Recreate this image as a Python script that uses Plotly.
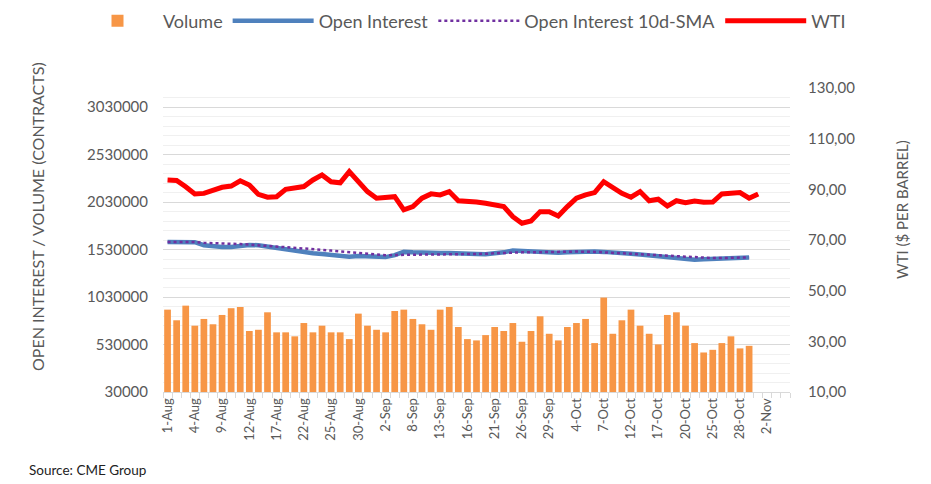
import plotly.graph_objects as go

dates = [
    "1-Aug", "2-Aug", "3-Aug", "4-Aug", "5-Aug", "8-Aug", "9-Aug", "10-Aug", "11-Aug", "12-Aug",
    "15-Aug", "16-Aug", "17-Aug", "18-Aug", "19-Aug", "22-Aug", "23-Aug", "24-Aug", "25-Aug", "26-Aug",
    "29-Aug", "30-Aug", "31-Aug",
    "1-Sep", "2-Sep", "6-Sep", "7-Sep", "8-Sep", "9-Sep", "12-Sep", "13-Sep", "14-Sep", "15-Sep",
    "16-Sep", "19-Sep", "20-Sep", "21-Sep", "22-Sep", "23-Sep", "26-Sep", "27-Sep", "28-Sep", "29-Sep",
    "30-Sep",
    "3-Oct", "4-Oct", "5-Oct", "6-Oct", "7-Oct", "10-Oct", "11-Oct", "12-Oct", "13-Oct", "14-Oct",
    "17-Oct", "18-Oct", "19-Oct", "20-Oct", "21-Oct", "24-Oct", "25-Oct", "26-Oct", "27-Oct", "28-Oct",
    "31-Oct",
    "1-Nov", "2-Nov", "3-Nov", "4-Nov",
]

volume = [
    897000, 785000, 939000, 728000, 799000, 743000, 841000, 912000, 925000, 672000,
    685000, 869000, 658000, 658000, 616000, 756000, 658000, 728000, 658000, 658000,
    587000, 855000, 728000, 685000, 658000, 883000, 897000, 799000, 743000, 685000,
    897000, 925000, 714000, 587000, 573000, 629000, 714000, 672000, 756000, 559000,
    672000, 827000, 643000, 573000, 714000, 756000, 799000, 545000, 1024000, 643000,
    785000, 897000, 728000, 643000, 531000, 841000, 869000, 728000, 545000, 446000,
    474000, 545000, 616000, 489000, 516000,
]

open_interest = [
    1609000, 1609000, 1609000, 1607000, 1575000, 1560000, 1556000, 1556000, 1570000, 1578000,
    1575000, 1560000, 1545000, 1530000, 1512000, 1495000, 1490000, 1482000, 1470000, 1458000,
    1455000, 1462000, 1455000, 1450000, 1450000, 1470000, 1505000, 1500000, 1495000, 1492000,
    1492000, 1492000, 1492000, 1490000, 1482000, 1480000, 1485000, 1500000, 1520000, 1515000,
    1505000, 1495000, 1492000, 1495000, 1500000, 1505000, 1508000, 1508000, 1505000, 1495000,
    1490000, 1485000, 1478000, 1468000, 1458000, 1448000, 1440000, 1432000, 1423000, 1428000,
    1432000, 1438000, 1445000, 1448000, 1447000,
]

oi_sma = [
    1609000, 1609000, 1609000, 1609000, 1600000, 1595000, 1591000, 1590000, 1588000, 1582000,
    1575000, 1570000, 1562000, 1555000, 1548000, 1541000, 1535000, 1527000, 1519000, 1510000,
    1501000, 1493000, 1485000, 1475000, 1470000, 1472000, 1475000, 1476000, 1477000, 1478000,
    1478000, 1478000, 1478000, 1480000, 1482000, 1485000, 1490000, 1495000, 1500000, 1500000,
    1500000, 1500000, 1502000, 1505000, 1507000, 1508000, 1510000, 1505000, 1500000, 1495000,
    1488000, 1485000, 1480000, 1475000, 1470000, 1465000, 1458000, 1452000, 1448000, 1444000,
    1440000, 1440000, 1442000, 1445000, 1447000,
]

wti = [
    93.7, 93.5, 91.0, 88.2, 88.4, 89.7, 90.8, 91.3, 93.4, 91.7,
    88.0, 86.9, 87.1, 90.0, 90.4, 91.1, 93.7, 95.7, 93.0, 92.6,
    97.0, 93.0, 89.1, 86.5, 87.0, 87.1, 81.9, 83.2, 86.5, 88.2,
    87.8, 89.1, 85.5, 85.4, 85.0, 84.5, 84.0, 83.2, 79.2, 76.6,
    77.5, 81.2, 81.2, 79.5, 83.2, 86.5, 87.8, 88.7, 93.0, 90.4,
    88.4, 86.9, 89.1, 85.5, 86.1, 83.4, 85.5, 84.7, 85.4, 84.9,
    85.0, 88.2, 88.7, 88.7, 86.5, 88.2,
]

tick_labels = [d if i % 3 == 0 else "" for i, d in enumerate(dates)]

FONT = "Lato, 'Open Sans', sans-serif"
GREY = "#595959"

# page has an 8px body margin: figure is drawn at (8, 8)
W, H = 923, 476
ML, MR, MT, MB = 155, 141, 80, 92
PW, PH = W - ML - MR, H - MT - MB


def px(x_page):
    return (x_page - 8 - ML) / PW


def py(y_page):
    return (H - MB - (y_page - 8)) / PH


fig = go.Figure()
fig.add_trace(go.Bar(x=dates[:len(volume)], y=volume, name="Volume",
                     marker=dict(color="#F79646", line=dict(width=0))))
fig.add_trace(go.Scatter(x=dates[:len(open_interest)], y=open_interest, name="Open Interest",
                         mode="lines", line=dict(color="#4F81BD", width=4.5)))
fig.add_trace(go.Scatter(x=dates[:len(oi_sma)], y=oi_sma, name="Open Interest 10d-SMA",
                         mode="lines", line=dict(color="#7030A0", width=2.5, dash="dot")))
fig.add_trace(go.Scatter(x=dates[:len(wti)], y=wti, name="WTI", mode="lines", yaxis="y2",
                         line=dict(color="#FF0000", width=5)))

fig.update_layout(
    width=W, height=H,
    margin=dict(l=ML, r=MR, t=MT, b=MB, autoexpand=False),
    paper_bgcolor="white", plot_bgcolor="white",
    separators=",.",
    font=dict(family=FONT, color=GREY),
    bargap=0.26,
    showlegend=True,
    legend=dict(orientation="h", xref="paper", yref="paper",
                x=px(163 - 91), y=py(21), xanchor="left", yanchor="middle",
                font=dict(size=18, color=GREY, family=FONT), itemwidth=81,
                bgcolor="rgba(0,0,0,0)", traceorder="normal"),
    xaxis=dict(type="category", categoryorder="array", categoryarray=dates,
               range=[-0.5, len(dates) - 0.5],
               tickmode="array", tickvals=dates, ticktext=tick_labels,
               tickangle=-90, tickfont=dict(size=13, color=GREY, family=FONT),
               ticks="outside", tickson="boundaries", ticklen=5, tickcolor="#d9d9d9",
               showline=True, linecolor="#d9d9d9", linewidth=1, showgrid=False),
    yaxis=dict(range=[30000, 3230000], tickmode="linear", tick0=30000, dtick=500000,
               tickformat="d", tickfont=dict(size=15, color=GREY, family=FONT),
               showgrid=True, gridcolor="#d9d9d9", gridwidth=1, zeroline=False,
               ticklabelstandoff=14,
               minor=dict(tick0=30000, dtick=100000, showgrid=True, gridcolor="#f0f0f0", gridwidth=1)),
    yaxis2=dict(overlaying="y", side="right", range=[10, 130], tickmode="linear", tick0=10, dtick=20,
                tickformat=".2f", tickfont=dict(size=15, color=GREY, family=FONT),
                showgrid=False, zeroline=False, ticklabelstandoff=17),
    annotations=[
        dict(text="OPEN INTEREST / VOLUME (CONTRACTS)", xref="paper", yref="paper",
             x=px(37), y=py(217), textangle=-90, showarrow=False,
             font=dict(size=16, color=GREY, family=FONT), xanchor="center", yanchor="middle"),
        dict(text="WTI ($ PER BARREL)", xref="paper", yref="paper",
             x=px(902), y=py(210), textangle=-90, showarrow=False,
             font=dict(size=15, color=GREY, family=FONT), xanchor="center", yanchor="middle"),
        dict(text="Source: CME Group", xref="paper", yref="paper",
             x=px(27), y=py(470), showarrow=False, xanchor="left", yanchor="middle",
             font=dict(size=13.5, color="#222222", family=FONT)),
    ],
)

fig.write_html("out.html")
